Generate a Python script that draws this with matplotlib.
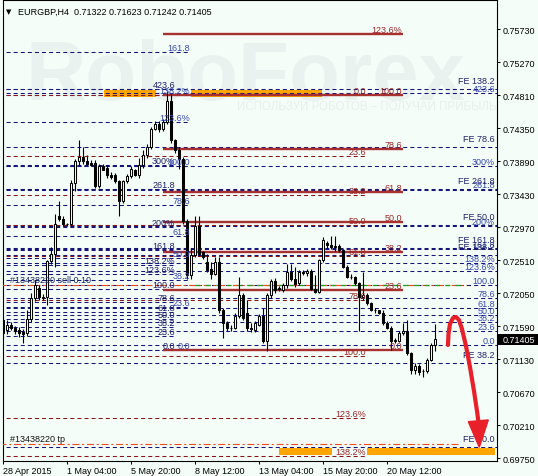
import matplotlib
matplotlib.use("Agg")
import matplotlib.pyplot as plt
import numpy as np
from matplotlib.patches import Polygon, Rectangle
import matplotlib.transforms as mtransforms

plt.rcParams['font.family'] = ['Liberation Sans', 'DejaVu Sans']
plt.rcParams['lines.scale_dashes'] = False

# ---------------- data ----------------
opens = [.7168, .7153, .7161, .7156, .7154, .7151, .7149, .7169, .7198, .7212,
         .7199, .7199, .7250, .7260, .7312, .7309, .7301, .7301, .7359, .7389,
         .7394, .7389, .7387, .7387, .7354, .7382, .7380, .7369, .7370, .7361,
         .7334, .7361, .7368, .7376, .7370, .7383, .7397, .7409, .7434, .7441,
         .7434, .7444, .7473, .7418, .7404, .7392, .7305, .7230, .7258, .7299,
         .7262, .7249, .7239, .7232, .7249, .7181, .7163, .7156, .7157, .7173,
         .7202, .7177, .7156, .7153, .7160, .7173, .7139, .7202, .7222, .7212,
         .7209, .7216, .7234, .7225, .7219, .7234, .7233, .7236, .7211, .7207,
         .7251, .7275, .7272, .7270, .7271, .7265, .7242, .7228, .7227, .7219,
         .7199, .7202, .7191, .7182, .7181, .7178, .7163, .7157, .7138, .7139,
         .7149, .7152, .7121, .7098, .7104, .7096, .7097, .7112, .71322]
highs = [.7173, .7167, .7165, .7159, .7158, .7155, .7181, .7205, .7223, .7216,
         .7204, .7251, .7270, .7315, .7334, .7312, .7303, .7362, .7392, .7418,
         .7409, .7397, .7390, .7390, .7385, .7385, .7383, .7374, .7373, .7363,
         .7363, .7371, .7382, .7378, .7393, .7404, .7413, .7437, .7445, .7445,
         .7448, .7486, .7483, .7420, .7408, .7394, .7309, .7267, .7312, .7312,
         .7264, .7259, .7249, .7256, .7256, .7184, .7166, .7160, .7177, .7227,
         .7205, .7195, .7163, .7166, .7176, .7184, .7205, .7225, .7226, .7215,
         .7219, .7245, .7245, .7242, .7237, .7237, .7238, .7238, .7230, .7252,
         .7283, .7277, .7284, .7284, .7274, .7267, .7244, .7231, .7229, .7221,
         .7234, .7205, .7193, .7184, .7182, .7181, .7166, .7159, .7142, .7152,
         .7163, .7168, .7123, .7108, .7107, .7100, .7114, .7136, .71623]
lows = [.7142, .7148, .7153, .7148, .7144, .7135, .7146, .7165, .7194, .7195,
        .7195, .7188, .7245, .7242, .7306, .7298, .7298, .7298, .7347, .7384,
        .7385, .7383, .7382, .7351, .7351, .7376, .7365, .7364, .7358, .7313,
        .7330, .7358, .7365, .7368, .7366, .7380, .7393, .7406, .7432, .7430,
        .7431, .7441, .7414, .7400, .7378, .7301, .7225, .7225, .7255, .7257,
        .7253, .7235, .7225, .7230, .7178, .7142, .7152, .7152, .7155, .7170,
        .7167, .7152, .7151, .7151, .7159, .7136, .7124, .7198, .7205, .7208,
        .7207, .7212, .7222, .7213, .7216, .7230, .7229, .7209, .7205, .7205,
        .7249, .7268, .7267, .7264, .7263, .7240, .7226, .7225, .7217, .7152,
        .7196, .7189, .7180, .7178, .7176, .7161, .7155, .7126, .7135, .7137,
        .7147, .7119, .7093, .7093, .7091, .7088, .7094, .7110, .71242]
closes = [.7149, .7161, .7156, .7152, .7149, .7148, .7169, .7198, .7216, .7199,
          .7198, .7250, .7260, .7301, .7309, .7301, .7302, .7359, .7389, .7394,
          .7389, .7385, .7384, .7354, .7382, .7377, .7369, .7367, .7361, .7334,
          .7361, .7368, .7378, .7370, .7383, .7397, .7409, .7434, .7441, .7434,
          .7444, .7473, .7418, .7404, .7392, .7305, .7230, .7258, .7298, .7260,
          .7256, .7237, .7232, .7249, .7181, .7163, .7156, .7157, .7173, .7202,
          .7170, .7156, .7155, .7163, .7173, .7139, .7202, .7222, .7209, .7211,
          .7216, .7234, .7225, .7218, .7234, .7233, .7236, .7211, .7207, .7251,
          .7279, .7272, .7270, .7271, .7265, .7242, .7228, .7227, .7219, .7199,
          .7203, .7191, .7182, .7181, .7178, .7163, .7157, .7138, .7140, .7149,
          .7152, .7121, .7098, .7104, .7095, .7097, .7112, .7133, .71405]

date_ticks = [0, 16, 32, 48, 64, 80, 96]
date_labels = ["28 Apr 2015", "1 May 04:00", "5 May 20:00", "8 May 12:00",
               "13 May 04:00", "15 May 20:00", "20 May 12:00"]
price_ticks = [0.75730, 0.75270, 0.74810, 0.74350, 0.73890, 0.73430, 0.72970,
               0.72510, 0.72050, 0.71590, 0.71130, 0.70670, 0.70210, 0.69750]
last_price = 0.71405
title = "EURGBP,H4  0.71322 0.71623 0.71242 0.71405"

fib_levels = [0, 23.6, 38.2, 50, 61.8, 78.6, 100, 123.6, 138.2, 161.8, 200, 261.8, 300, 423.6]
pct_levels = [123.6, 138.2, 200, 300]

# retracement A (solid)  0% / 100% prices
retA = (0.71259, 0.74817)
retA_levels = [0, 23.6, 38.2, 50, 61.8, 78.6, 100, 123.6]
# retracement B (dashed)
retB = (0.74813, 0.71175)
retB_levels = [0, 23.6, 38.2, 50, 61.8, 78.6, 100, 123.6, 138.2]
# expansions: base price, 100% size
feL1 = (0.71255, 0.00859)
feL2 = (0.71255, 0.02571)
feL2_levels = [0, 23.6, 38.2, 50, 61.8, 78.6, 100, 123.6, 138.2, 161.8]
feR1 = (0.71329, 0.008297)
fe_prices = [0.74896, 0.74086, 0.73493, 0.72999, 0.72673, 0.72582, 0.71075, 0.69903]
fe_labels = ["FE 138.2", "FE 78.6", "FE 261.8", "FE 50.0", "FE 161.8", "FE 138.2",
             "FE 38.2", "FE 50.0"]

sell_price = 0.72163
tp_price = 0.69949
zones = [(0.74836, 25.25, 38.25), (0.74836, 47.0, 79.75),
         (0.69840, 69.0, 82.25), (0.69840, 91.0, 123.0)]

arrow_x = [111.25, 111.375, 111.75, 112.5, 113.25, 114.0, 114.75, 115.75, 116.75, 117.75, 118.5, 118.875]
arrow_y = [0.71328, 0.71481, 0.71621, 0.71704, 0.71718, 0.71676, 0.71551, 0.71314,
           0.71022, 0.70687, 0.70409, 0.70256]
head_x = [116.33, 121.33, 119.08]
head_y = [0.70260, 0.70284, 0.69903]

# ---------------- style ----------------
BG = '#F5FDF9'
NAVY = '#14147A'
DRED = '#8B1414'
SRED = '#A83030'
LRED = '#9A2828'
LNAVY = '#202068'
LBLUE = '#3548B0'
FS = 6.5
DASH = (0, (2.9, 2.2))

W, H = 538, 477
fig = plt.figure(figsize=(W / 100, H / 100), dpi=100)
fig.patch.set_facecolor(BG)
ax = fig.add_axes([2.7 / W, (H - 461.7) / H, 494.0 / W, 460.7 / H])
ax.set_facecolor(BG)
ax.set_xlim(-0.075, 123.43)
ax.set_ylim(0.69716, 0.76134)

# watermark (behind everything in the plot)
ax.text(25 / W, (H - 100) / H, "RoboForex", fontsize=60, fontweight='bold',
        color='#EAF2EF', va='baseline', ha='left', zorder=0.2, transform=fig.transFigure,
        clip_on=False)
ax.text(237 / W, (H - 110) / H, "ИСПОЛЬЗУЙ РОБОТОВ – ПОЛУЧАЙ ПРИБЫЛЬ", fontsize=8.3,
        color='#E8EFEC', va='baseline', ha='left', zorder=0.2, transform=fig.transFigure,
        clip_on=False)

XL = -1.0
XR = 123.43


def fmt(lv):
    if lv in pct_levels:
        return ("%g" % lv) + "%"
    return "%.1f" % lv


def hline(p, x0, x1, color, ls='-', lw=0.75, z=2):
    ax.plot([x0, x1], [p, p], color=color, ls=ls, lw=lw, zorder=z, solid_capstyle='butt')


def label(x, p, s, color, ha='right'):
    ax.text(x, p, s, color=color, fontsize=FS, ha=ha, va='bottom', zorder=8)


# orange zones
for p, x0, x1 in zones:
    ax.fill_between([x0, x1], p - 0.00049, p + 0.00049, color='#FFA500', lw=0, zorder=1)

# expansion L1 (left, short)
for lv in fib_levels:
    p = feL1[0] + lv / 100 * feL1[1]
    hline(p, XL, 43.25, NAVY, DASH)
    label(43.0, p, fmt(lv), LNAVY)
# expansion L2
for lv in feL2_levels:
    p = feL2[0] + lv / 100 * feL2[1]
    hline(p, XL, 46.75, NAVY, DASH)
    label(46.75, p, fmt(lv), LBLUE)
# expansion R1 (full width)
for lv in fib_levels:
    p = feR1[0] + lv / 100 * feR1[1]
    hline(p, XL, XR, NAVY, DASH)
    label(123.0, p, fmt(lv), LBLUE)
# FE lines
for p, s in zip(fe_prices, fe_labels):
    hline(p, XL, XR, NAVY, DASH)
    label(123.0, p + 0.0006, s, LNAVY)

# retracement B dashed
for lv in retB_levels:
    p = retB[0] + lv / 100 * (retB[1] - retB[0])
    hline(p, XL, 90.75, DRED, DASH)
    label(90.75, p, fmt(lv), LRED)
# retracement A solid
for lv in retA_levels:
    p = retA[0] + lv / 100 * (retA[1] - retA[0])
    hline(p, 40, 100, SRED, '-', 1.7, 3)
    label(99.75, p, fmt(lv), LRED)

# order lines
hline(sell_price, XL, 115.75, '#F04A1A', (0, (5, 2, 1.5, 2)), 0.8, 4)
hline(sell_price, 48, 115.75, '#1CA01C', (0, (3.5, 4)), 0.9, 4)
ax.text(1.75, sell_price + 0.0001, "#13438220 sell 0.10", color='#1E2A60', fontsize=FS,
        ha='left', va='bottom', zorder=8)
hline(tp_price, XL, 113.75, '#F04A1A', (0, (5, 2, 1.5, 2)), 0.8, 4)
ax.text(1.75, tp_price + 0.0001, "#13438220 tp", color='#111111', fontsize=FS,
        ha='left', va='bottom', zorder=8)

# candles
o = np.array(opens); h = np.array(highs); l = np.array(lows); c = np.array(closes)
xs = np.arange(len(o))
ax.vlines(xs, l, h, color='black', lw=0.8, zorder=5)
up = c >= o
bot = np.minimum(o, c)
ht = np.maximum(np.abs(c - o), 0.00003)
ax.bar(xs[up], ht[up], bottom=bot[up], width=0.55, facecolor='white', edgecolor='black',
       linewidth=0.75, zorder=6)
ax.bar(xs[~up], ht[~up], bottom=bot[~up], width=0.55, facecolor='black', edgecolor='black',
       linewidth=0.75, zorder=6)

# red arrow
ax.plot(arrow_x, arrow_y, color='#E8202A', lw=3.0, solid_capstyle='round', zorder=9)
ax.add_patch(Polygon(list(zip(head_x, head_y)), closed=True, color='#E8202A', zorder=9))

# axes
for s in ax.spines.values():
    s.set_color('black')
    s.set_linewidth(0.8)
ax.yaxis.tick_right()
ax.set_yticks(price_ticks)
ax.set_yticklabels(["%.5f" % v for v in price_ticks])
ax.tick_params(axis='y', direction='out', length=2.5, width=0.75, pad=1.5, labelsize=FS,
               colors='black')
ax.set_xticks(date_ticks)
ax.set_xticklabels(date_labels)
ax.tick_params(axis='x', direction='out', length=2.5, width=0.75, pad=1.0, labelsize=FS,
               colors='black')
for t in ax.get_xticklabels():
    t.set_ha('left')

# current price box
tr = mtransforms.blended_transform_factory(ax.transAxes, ax.transData)
ax.add_patch(Rectangle((1.001, last_price - 0.00074), 0.085, 0.00148, transform=tr,
                       facecolor='black', edgecolor='none', clip_on=False, zorder=10))
ax.text(1.012, last_price, "%.5f" % last_price, transform=tr, color='white', fontsize=FS,
        va='center', ha='left', zorder=11, clip_on=False)

# title
fig.text(6 / W, (H - 12) / H, "\u25bc", fontsize=5, family=['DejaVu Sans'], va='center',
         ha='left', color='black')
fig.text(18 / W, (H - 12) / H, title, fontsize=FS, va='center', ha='left', color='black')

fig.savefig("out.png", dpi=100, facecolor=BG)
